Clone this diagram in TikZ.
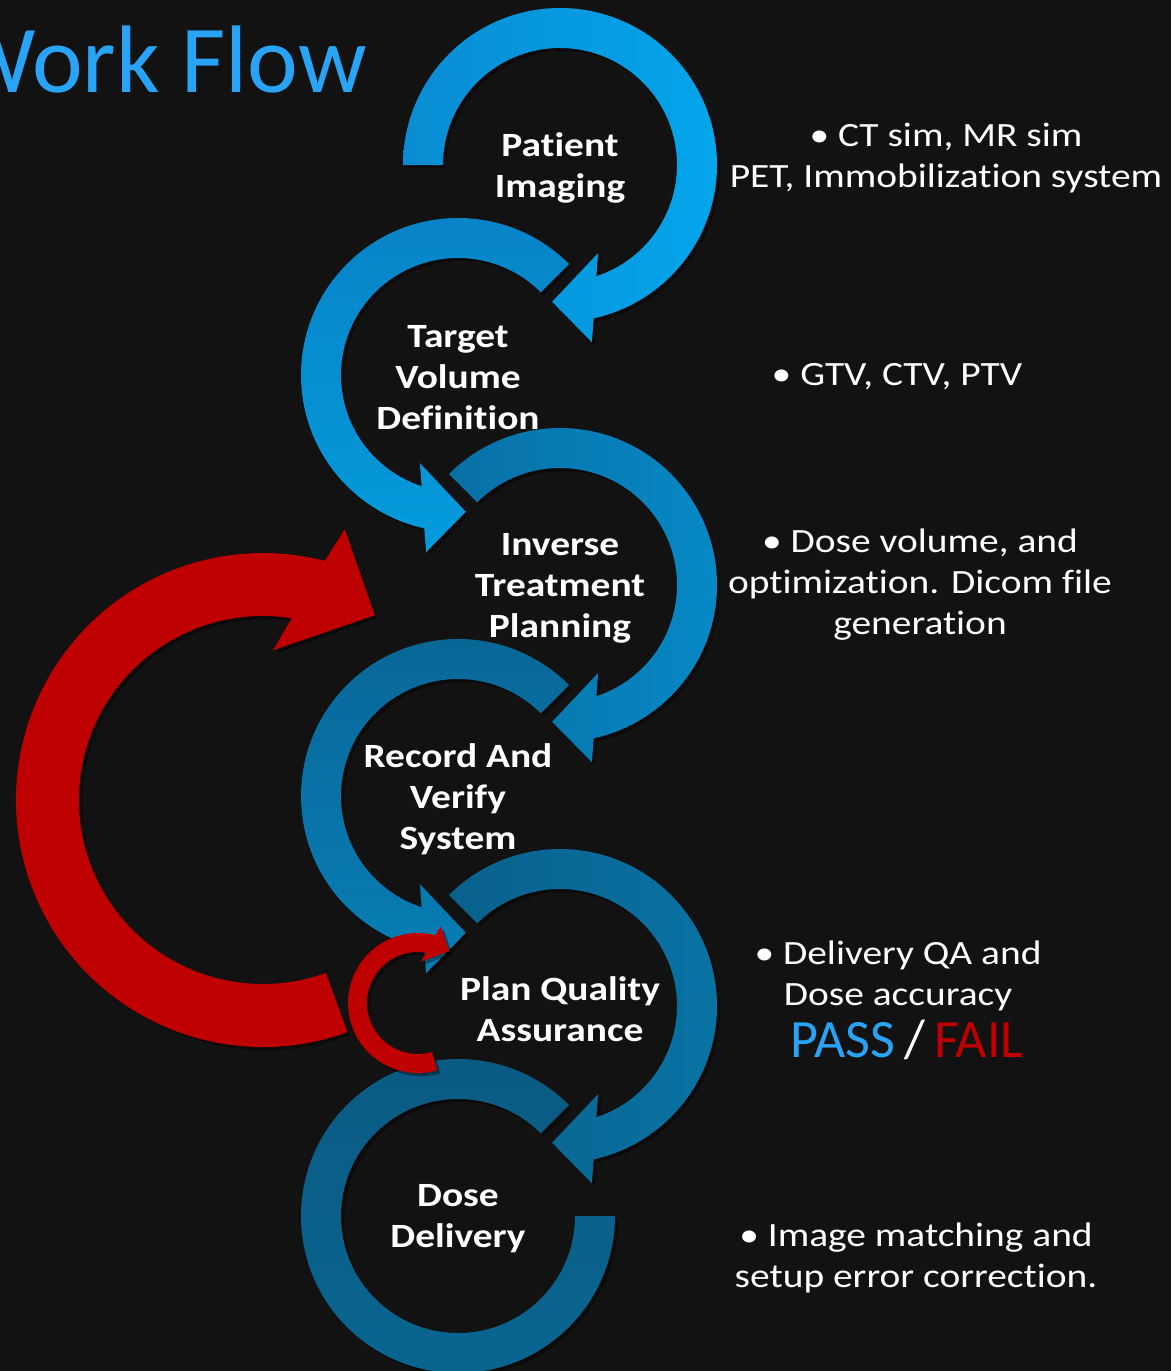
\documentclass[tikz,border=0pt]{standalone}
\usepackage{fontspec}
\setmainfont{Carlito}
\newfontfamily\widefont{Carlito}[FakeStretch=1.16,Ligatures={NoCommon}]
\definecolor{bg}{RGB}{18,18,18}
\definecolor{ttl}{RGB}{41,163,245}
\definecolor{passc}{RGB}{41,163,245}
\definecolor{redc}{RGB}{190,0,0}
\definecolor{cOneA}{RGB}{10,140,210}
\definecolor{cOneB}{RGB}{3,165,235}
\definecolor{cTwoA}{RGB}{8,130,198}
\definecolor{cTwoB}{RGB}{4,155,220}
\definecolor{cThrA}{RGB}{8,112,165}
\definecolor{cThrB}{RGB}{6,138,200}
\definecolor{cFouA}{RGB}{9,102,150}
\definecolor{cFouB}{RGB}{7,126,182}
\definecolor{cFivA}{RGB}{10,96,140}
\definecolor{cFivB}{RGB}{8,116,165}
\definecolor{cSixA}{RGB}{10,90,130}
\definecolor{cSixB}{RGB}{9,102,145}
\tikzset{
  shd/.style={fill=black,opacity=0.4,transform canvas={shift={(1.5pt,-1.5pt)}}},
  lbl/.style={text=white,font=\widefont\fontsize{17}{20.5}\selectfont\bfseries,align=center,inner sep=0pt},
  note/.style={text=white,font=\widefont\fontsize{17}{20.5}\selectfont,align=center,inner sep=0pt},
}
\begin{document}
\begin{tikzpicture}[x=0.5pt,y=0.5pt]
\useasboundingbox (0,0) rectangle (1171,-1371);
\fill[bg] (0,0) rectangle (1171,-1371);
\clip (0,0) rectangle (1171,-1371);

% ---- Dose Delivery ring (no head)
\begin{scope}[shift={(458,-1216)}]
\path[save path=\pSix] (45:157) arc[start angle=45,end angle=360,radius=157] -- (0:117) arc[start angle=360,end angle=45,radius=117] -- cycle;
\path[shd,use path=\pSix];
\path[top color=cSixA,bottom color=cSixB] (45:157) arc[start angle=45,end angle=360,radius=157] -- (0:117) arc[start angle=360,end angle=45,radius=117] -- cycle;
\end{scope}

% ---- Plan Quality Assurance (clockwise, start 135)
\begin{scope}[shift={(560,-1006)}]
\path[save path=\pFiv] (135:157) arc[start angle=135,end angle=-77.6,radius=157] -- (-79.8:180) -- (-93.3:137) -- (-66.6:96) -- (-71.9:117) arc[start angle=-71.9,end angle=135,radius=117] -- cycle;
\path[shd,use path=\pFiv];
\path[left color=cFivA,right color=cFivB] (135:157) arc[start angle=135,end angle=-77.6,radius=157] -- (-79.8:180) -- (-93.3:137) -- (-66.6:96) -- (-71.9:117) arc[start angle=-71.9,end angle=135,radius=117] -- cycle;
\end{scope}

% ---- Record And Verify (mirrored)
\begin{scope}[shift={(458,-796)},xscale=-1]
\path[save path=\pFou] (135:157) arc[start angle=135,end angle=-77.6,radius=157] -- (-79.8:180) -- (-93.3:137) -- (-66.6:96) -- (-71.9:117) arc[start angle=-71.9,end angle=135,radius=117] -- cycle;
\path[shd,use path=\pFou];
\path[top color=cFouA,bottom color=cFouB] (135:157) arc[start angle=135,end angle=-77.6,radius=157] -- (-79.8:180) -- (-93.3:137) -- (-66.6:96) -- (-71.9:117) arc[start angle=-71.9,end angle=135,radius=117] -- cycle;
\end{scope}

% ---- Inverse Treatment Planning
\begin{scope}[shift={(560,-585)}]
\path[save path=\pThr] (135:157) arc[start angle=135,end angle=-77.6,radius=157] -- (-79.8:180) -- (-93.3:137) -- (-66.6:96) -- (-71.9:117) arc[start angle=-71.9,end angle=135,radius=117] -- cycle;
\path[shd,use path=\pThr];
\path[left color=cThrA,right color=cThrB] (135:157) arc[start angle=135,end angle=-77.6,radius=157] -- (-79.8:180) -- (-93.3:137) -- (-66.6:96) -- (-71.9:117) arc[start angle=-71.9,end angle=135,radius=117] -- cycle;
\end{scope}

% ---- Target Volume Definition (mirrored)
\begin{scope}[shift={(458,-375)},xscale=-1]
\path[save path=\pTwo] (135:157) arc[start angle=135,end angle=-77.6,radius=157] -- (-79.8:180) -- (-93.3:137) -- (-66.6:96) -- (-71.9:117) arc[start angle=-71.9,end angle=135,radius=117] -- cycle;
\path[shd,use path=\pTwo];
\path[top color=cTwoA,bottom color=cTwoB] (135:157) arc[start angle=135,end angle=-77.6,radius=157] -- (-79.8:180) -- (-93.3:137) -- (-66.6:96) -- (-71.9:117) arc[start angle=-71.9,end angle=135,radius=117] -- cycle;
\end{scope}

% ---- Patient Imaging (start 180)
\begin{scope}[shift={(560,-165)}]
\path[save path=\pOne] (180:157) arc[start angle=180,end angle=-77.6,radius=157] -- (-79.8:180) -- (-93.3:137) -- (-66.6:96) -- (-71.9:117) arc[start angle=-71.9,end angle=180,radius=117] -- cycle;
\path[shd,use path=\pOne];
\path[left color=cOneA,right color=cOneB] (180:157) arc[start angle=180,end angle=-77.6,radius=157] -- (-79.8:180) -- (-93.3:137) -- (-66.6:96) -- (-71.9:117) arc[start angle=-71.9,end angle=180,radius=117] -- cycle;
\end{scope}

% ---- big red loop
\begin{scope}[shift={(263,-800)}]
\path[save path=\pRedA] (-70:247) arc[start angle=-70,end angle=-284.5,radius=247] -- (73.2:283) -- (58.8:216) -- (86.2:150) -- (81:184) arc[start angle=-279,end angle=-70,radius=184] -- cycle;
\path[shd,use path=\pRedA];
\path[use path=\pRedA,fill=redc];
\end{scope}

% ---- small red loop
\begin{scope}[shift={(418,-1003)}]
\path[save path=\pRedB] (-74:70) arc[start angle=-74,end angle=-284.5,radius=70] -- (73.4:80) -- (59:60.5) -- (86:41.5) -- (81:51) arc[start angle=-279,end angle=-74,radius=51] -- cycle;
\path[shd,use path=\pRedB];
\path[use path=\pRedB,fill=redc];
\end{scope}

% ---- title
\node[anchor=base east,text=ttl,font=\fontsize{48}{56}\selectfont,inner sep=0pt] (title) at (367,-92) {Work Flow};

% ---- step labels
\node[lbl] (s1) at (560,-168) {Patient\\Imaging};
\node[lbl] (s2) at (458,-378) {Target\\Volume\\Definition};
\node[lbl] (s3) at (560,-588) {Inverse\\Treatment\\Planning};
\node[lbl] (s4) at (458,-799) {Record And\\Verify\\System};
\node[lbl] (s5) at (560,-1009) {Plan Quality\\Assurance};
\node[lbl] (s6) at (458,-1219) {Dose\\Delivery};

% ---- notes
\node[note] (n1) at (946,-158) {\textbullet\ CT sim, MR sim\\PET, Immobilization system};
\node[note] (n2) at (897,-377) {\textbullet\ GTV, CTV, PTV};
\node[note] (n3) at (920,-585) {\textbullet\ Dose volume, and\\optimization. Dicom file\\generation};
\node[note] (n4) at (898,-976) {\textbullet\ Delivery QA and\\Dose accuracy};
\node[inner sep=0pt,font=\fontsize{27}{30}\selectfont] (n4b) at (907,-1040) {\textcolor{passc}{PASS}\,\textcolor{white}{/}\,\textcolor{redc}{FAIL}};
\node[note] (n5) at (916,-1258) {\textbullet\ Image matching and\\setup error correction.};
\end{tikzpicture}
\end{document}
